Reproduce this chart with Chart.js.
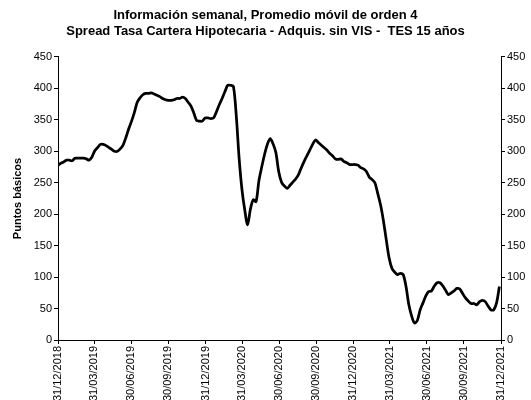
<!DOCTYPE html>
<html>
<head>
<meta charset="utf-8">
<script src="https://cdn.jsdelivr.net/npm/chart.js@4/dist/chart.umd.min.js"></script>
<style>
  html, body { margin: 0; padding: 0; background: #fff; }
</style>
</head>
<body>
<canvas id="spreadChart" width="531" height="400"></canvas>

<script>
// Weekly spread (basis points), 4-week moving average, first week 31/12/2018
const firstWeek = '31/12/2018';
const spread = [
    278, 281, 283, 286, 286, 285, 289, 289, 289, 289,
    288, 286, 291, 301, 306, 311, 311, 309, 306, 303,
    300, 300, 304, 310, 322, 336, 348, 362, 378, 385,
    390, 392, 392, 393, 391, 389, 387, 384, 382, 381,
    381, 382, 384, 384, 386, 384, 378, 372, 361, 349,
    348, 348, 353, 353, 352, 353, 363, 374, 384, 395,
    405, 405, 403, 357, 290, 240, 207, 183, 208, 223,
    220, 253, 275, 295, 311, 320, 312, 298, 268, 251,
    245, 241, 246, 251, 256, 263, 274, 284, 293, 302,
    311, 318, 314, 310, 306, 302, 297, 293, 288, 287,
    288, 284, 282, 279, 279, 279, 278, 274, 272, 268,
    259, 255, 250, 233, 215, 190, 160, 131, 114, 108,
    104, 106, 104, 85, 56, 38, 27, 31, 48, 59,
    70, 77, 78, 86, 91, 91, 86, 79, 72, 75,
    78, 82, 81, 74, 67, 62, 58, 58, 56, 61,
    63, 61, 54, 48, 48, 59, 85
];

// Quarter-end dates shown on the x axis
const quarterLabels = [
    '31/12/2018', '31/03/2019', '30/06/2019', '30/09/2019',
    '31/12/2019', '31/03/2020', '30/06/2020', '30/09/2020',
    '31/12/2020', '31/03/2021', '30/06/2021', '30/09/2021',
    '31/12/2021'
];

const DAY = 24 * 3600 * 1000;
function parseDate(s) {
    const [d, m, y] = s.split('/').map(Number);
    return Date.UTC(y, m - 1, d);
}
const origin = parseDate(firstWeek);
const quarterDays = quarterLabels.map(l => Math.round((parseDate(l) - origin) / DAY));
const points = spread.map((v, i) => ({ x: i * 7, y: v }));

const font = { family: "'Liberation Sans', Arial, sans-serif", size: 11 };

const yAxis = (position, width) => ({
    position: position,
    min: 0,
    max: 450,
    ticks: {
        stepSize: 50,
        color: '#000',
        font: font,
        padding: 2
    },
    grid: {
        drawOnChartArea: false,
        drawTicks: true,
        tickLength: 4,
        color: '#000'
    },
    border: { display: true, color: '#000', width: 1 },
    afterFit: function(scale) { scale.width = width; }
});

const ctx = document.getElementById('spreadChart').getContext('2d');
new Chart(ctx, {
    type: 'line',
    data: {
        datasets: [{
            label: 'Spread',
            data: points,
            borderColor: '#000',
            borderWidth: 2.75,
            pointRadius: 0,
            tension: 0.3,
            fill: false,
            yAxisID: 'y'
        }]
    },
    options: {
        responsive: false,
        animation: false,
        layout: { padding: 0 },
        scales: {
            x: {
                type: 'linear',
                min: 0,
                max: quarterDays[quarterDays.length - 1],
                afterBuildTicks: function(scale) {
                    scale.ticks = quarterDays.map(d => ({ value: d }));
                },
                afterFit: function(scale) { scale.height = 60; },
                ticks: {
                    autoSkip: false,
                    maxRotation: 90,
                    minRotation: 90,
                    color: '#000',
                    font: font,
                    padding: 2,
                    callback: function(value) {
                        const i = quarterDays.indexOf(value);
                        return i >= 0 ? quarterLabels[i] : '';
                    }
                },
                grid: {
                    drawOnChartArea: false,
                    drawTicks: true,
                    tickLength: 4,
                    color: '#000'
                },
                border: { display: true, color: '#000', width: 1 }
            },
            y: Object.assign(yAxis('left', 58), {
                title: {
                    display: true,
                    text: 'Puntos básicos',
                    color: '#000',
                    font: { family: font.family, size: 11, weight: 'bold' },
                    padding: { top: 11, bottom: 0 }
                }
            }),
            y2: yAxis('right', 30)
        },
        plugins: {
            legend: { display: false },
            tooltip: { enabled: false },
            title: {
                display: true,
                text: [
                    'Información semanal, Promedio móvil de orden 4',
                    'Spread Tasa Cartera Hipotecaria - Adquis. sin VIS -  TES 15 años'
                ],
                color: '#000',
                font: { family: font.family, size: 13, weight: 'bold', lineHeight: 1.23 },
                padding: { top: 7, bottom: 18 }
            }
        }
    }
});
</script>
</body>
</html>
